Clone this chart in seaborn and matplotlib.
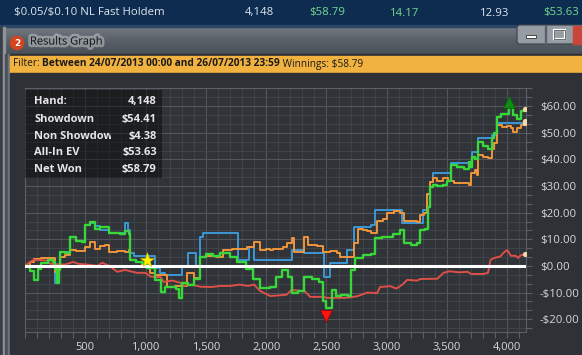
import numpy as np
import pandas as pd
import matplotlib
matplotlib.use("Agg")
import matplotlib.pyplot as plt
import matplotlib.transforms as mtransforms
import matplotlib.patheffects as pe
from matplotlib.patches import Rectangle, Circle, FancyBboxPatch
from matplotlib.colors import LinearSegmentedColormap
from matplotlib.ticker import FixedLocator, MultipleLocator, FuncFormatter
import seaborn as sns

plt.rcParams["text.parse_math"] = False  # dollar signs are literal

# header / text content
GAME = "$0.05/$0.10 NL Fast Holdem"
HEADER_VALUES = ["4,148", "$58.79", "14.17", "12.93", "$53.63"]
HEADER_GREEN = [False, True, True, False, True]
TITLE = "Results Graph"
FILTER_PARTS = [("Filter: ", "normal"),
                ("Between 24/07/2013 00:00 and 26/07/2013 23:59", "bold"),
                (" Winnings: $58.79", "normal")]
STAT_LABELS = ["Hand:", "Showdown", "Non Showdown", "All-In EV", "Net Won"]
STAT_VALUES = ["4,148", "$54.41", "$4.38", "$53.63", "$58.79"]
X_TICKS = [500, 1000, 1500, 2000, 2500, 3000, 3500, 4000]

# series (hand number, dollars)
net_won_hands = [0, 40, 77, 110, 130, 190, 230, 250, 265, 280, 292, 330, 375, 420, 470, 500, 540,
                 580, 625, 700, 790, 830, 860, 873, 920, 970, 1015, 1080, 1130, 1160, 1210, 1250,
                 1275, 1300, 1350, 1400, 1455, 1500, 1560, 1620, 1700, 1760, 1830, 1895, 1950,
                 2035, 2080, 2135, 2180, 2215, 2260, 2310, 2380, 2440, 2470, 2500, 2545, 2580,
                 2620, 2675, 2700, 2740, 2800, 2870, 2905, 2960, 3050, 3110, 3140, 3200, 3250,
                 3280, 3320, 3340, 3360, 3380, 3420, 3470, 3500, 3530, 3580, 3640, 3680, 3700,
                 3710, 3730, 3760, 3800, 3840, 3875, 3890, 3915, 3950, 3980, 4010, 4050, 4080,
                 4110, 4148]
net_won = [0, -2, -5.3, -1, 1, 2.2, 1.5, -1, -6.4, -1.5, 5.4, 5, 11, 9.5, 9, 15.4, 16.5,
           14, 14.5, 12.5, 12, 13, 12, 2.2, 1.5, 1.0, -0.8, -5.2, -9.8, -8, -7.9, -8.5,
           -12, -6.4, -7, -5, 3.4, 4.5, 3.8, 5, 3.5, 1.5, -1, -5, -8.3,
           -7.9, -4, -1.5, -4, -10, -9.5, -4, -5, -6, -13, -15.8, -9, -11.3,
           -11, -11.3, -1.5, 3, 4, 4.5, 10.5, 11, 12, 13.5, 8.6, 8, 8.5,
           13.5, 14, 22, 29.6, 30.4, 30, 30.5, 32, 38, 37, 36.5, 39, 37,
           41, 40, 46.5, 45, 44, 48, 50, 56, 57, 57, 59.3, 56.7, 55,
           58, 58.79]

all_in_hands = [0, 40, 77, 130, 190, 250, 275, 292, 330, 375, 420, 470, 500, 540, 580, 625, 660,
                700, 760, 830, 860, 873, 920, 970, 1040, 1080, 1130, 1180, 1240, 1300, 1345,
                1400, 1455, 1500, 1580, 1645, 1720, 1800, 1845, 1900, 1950, 2000, 2035, 2060,
                2100, 2140, 2170, 2215, 2230, 2290, 2310, 2350, 2420, 2475, 2530, 2590, 2615,
                2700, 2725, 2760, 2800, 2840, 2870, 2920, 2970, 3000, 3060, 3110, 3140, 3200,
                3250, 3280, 3310, 3335, 3360, 3380, 3420, 3470, 3510, 3560, 3650, 3680, 3700,
                3730, 3750, 3760, 3800, 3840, 3875, 3890, 3915, 3960, 4000, 4030, 4050, 4080,
                4110, 4148]
all_in_ev = [0, 1.5, 2.5, 3, 3, -2.2, 0, 3.4, 4, 6, 5.5, 5.5, 7, 9, 6.5, 7.5, 8,
             5.3, 5.5, 5.3, 6, 2.2, 1.5, 0.5, -2.6, -3.5, -3.5, -8, -7.5, -7.5, -2.6,
             -4.5, 3.4, 3.8, 3.5, 6, 6.5, 6.5, 7, 9, 6, 6.5, 5.8, 6.5,
             6.5, 7, 8.5, 10.5, 5.3, 5.3, 11, 8, 7.5, 5.3, 5.5, 5, 3.4,
             3.4, 8.6, 14, 13.5, 13, 12.5, 17, 17.5, 20, 20.5, 20, 17, 17,
             16.5, 19, 20, 27, 31.5, 33, 32, 33, 32, 31, 31, 30.4, 35,
             36, 34, 41.6, 41, 40.5, 44, 46, 53, 52, 52.5, 51.8, 50.3, 51.8,
             53, 53.63]

showdown_hands = [0, 40, 77, 110, 130, 190, 230, 250, 275, 292, 375, 420, 500, 540, 580, 625,
                  700, 790, 830, 855, 873, 900, 1065, 1080, 1120, 1160, 1290, 1300, 1340, 1355,
                  1410, 1420, 1455, 1480, 1760, 1770, 1860, 1900, 2065, 2215, 2310, 2470, 2480,
                  2520, 2530, 2650, 2670, 2725, 2870, 2905, 3110, 3130, 3290, 3300, 3335, 3360,
                  3380, 3530, 3700, 3710, 3760, 3850, 3875, 3915, 4140, 4148]
showdown = [0, -2, -5.3, -1, 1, 2.2, 1.5, -6.4, -1.5, 5.4, 11, 9.5, 15.4, 16, 15, 13.5,
            12.5, 12.5, 16, 13.5, 5, 3.8, 3.8, -0.8, -2.6, -3.4, -3.4, -0.5, 0, 5,
            5, -0.5, 11, 12.3, 12.3, 2.2, 7, 2.2, 2.2, 6, 5, 5, -4,
            -4, 1.1, 1.1, 6, 14.6, 15.4, 21, 21, 16, 16, 21, 27, 31.5,
            35, 38.6, 38.6, 42.8, 48, 48, 49, 53.7, 53.7, 54.41]

non_sd_hands = [0, 40, 70, 130, 185, 210, 250, 330, 400, 440, 520, 600, 640, 700, 765, 830,
                873, 930, 1000, 1040, 1125, 1150, 1220, 1290, 1315, 1380, 1455, 1550, 1620,
                1700, 1780, 1850, 1900, 1950, 2035, 2120, 2170, 2210, 2320, 2365, 2475, 2505,
                2640, 2700, 2760, 2840, 2920, 2945, 3030, 3080, 3130, 3170, 3250, 3280, 3420,
                3470, 3520, 3600, 3670, 3700, 3800, 3840, 3860, 3890, 3940, 3970, 4000, 4030,
                4070, 4090, 4110, 4148]
non_showdown = [0, 1.5, 2.2, 2.2, 2, 0.8, 0.7, 0.5, 1.5, 0.8, 0.5, 0, 1.2, 0, -2.2, -1.5,
                -2, -2.6, -2.6, -4, -4.2, -6, -5.5, -6.3, -7.5, -7, -7.8, -7.9, -7.5,
                -7.5, -7, -7.5, -7, -9.4, -11.3, -11, -10.8, -9, -9.5, -11.6, -11.6, -12,
                -12, -11.8, -11.3, -10, -10.2, -7.9, -7.6, -8.5, -7, -5.2, -5.5, -4.9, -4.8,
                -2.6, -2, -2.4, -2.2, -3, -3, -2.6, 2.2, 3, 3.5, 5, 6, 3.8,
                3.8, 3, 4, 4.38]

star_hand = [1010]
star_value = [2.2]

# draw order, colours, line style
SERIES = [
    ("Showdown", showdown_hands, showdown, "#3b98d6", 1.4, "steps-post"),
    ("All-In EV", all_in_hands, all_in_ev, "#f0953a", 1.4, "steps-post"),
    ("Non Showdown", non_sd_hands, non_showdown, "#dd4f48", 1.4, "default"),
    ("Net Won", net_won_hands, net_won, "#39d83a", 1.7, "steps-post"),
]

W, H = 582, 355
fig = plt.figure(figsize=(W / 100, H / 100), dpi=100)
fig.patch.set_facecolor("#2d3034")

# ---- window chrome, drawn in pixel coordinates ----
bg = fig.add_axes([0, 0, 1, 1], zorder=-1)
bg.set_xlim(0, W)
bg.set_ylim(H, 0)
bg.axis("off")

bg.add_patch(Rectangle((0, 0), W, 26, color="#0d2c50"))
bg.add_patch(Rectangle((0, 25), W, 1.5, color="#2a4566"))
grad = np.linspace(0, 1, 40).reshape(-1, 1)
title_cmap = LinearSegmentedColormap.from_list("tb", ["#737981", "#5a6068", "#4a5057"])
bg.imshow(grad, extent=(3, W, 54, 27), aspect="auto", cmap=title_cmap, zorder=0)
bg.add_patch(Rectangle((0, 27), 3, H, color="#3a3f45", zorder=1))
bg.add_patch(Rectangle((3, 27), 2, H, color="#8c939b", zorder=1))
bg.add_patch(Rectangle((5, 54), 5, H, color="#4c525a", zorder=1))
bg.add_patch(Rectangle((8, 54), 1.2, H, color="#6d747c", zorder=1))
bg.add_patch(Rectangle((10, 54), W, 1.5, color="#2b2e32", zorder=1))
bg.add_patch(Rectangle((10, 55.5), W, 17, color="#f2b23f", zorder=1))
bg.add_patch(Rectangle((10, 72.5), W, H, color="#2e3135", zorder=1))
bg.set_xlim(0, W)
bg.set_ylim(H, 0)

# window buttons
bg.add_patch(FancyBboxPatch((517, 25), 70, 19, boxstyle="round,pad=0,rounding_size=3",
                            facecolor="#959ca4", edgecolor="#3c4148", lw=0.8, zorder=2))
bg.add_patch(Rectangle((545, 25.5), 0.8, 18, color="#5a6068", zorder=3))
bg.add_patch(Rectangle((573, 25.5), 12, 18.5, color="#c8463a", zorder=3))
bg.add_patch(Rectangle((526, 35), 10, 3, facecolor="white", edgecolor="#333", lw=0.6, zorder=4))
bg.add_patch(Rectangle((554, 30), 11, 9, facecolor="none", edgecolor="white", lw=1.6, zorder=4))
bg.add_patch(Rectangle((554, 30), 11, 9, facecolor="none", edgecolor="#333", lw=0.5, zorder=4))

# icon + title
bg.add_patch(Circle((17, 43), 6.5, color="#d5441d", zorder=3))
bg.text(17, 43.5, "2", color="white", fontsize=6.5, fontweight="bold",
        ha="center", va="center", zorder=4)
bg.text(30, 42, TITLE, color="#141414", fontsize=8, family="Open Sans", va="center", zorder=4,
        path_effects=[pe.withStroke(linewidth=4, foreground="#c9ced3", alpha=0.5)])

# header row
bg.text(14, 13, GAME, color="#dfe6ee", fontsize=8.2, family="Open Sans", va="center")
for x, label, green in zip([245, 309, 390, 480, 543], HEADER_VALUES, HEADER_GREEN):
    bg.text(x, 13, label, color="#74d990" if green else "#dfe6ee", fontsize=8.2,
            family="Open Sans", va="center")

# filter line, pieces placed one after another
renderer = fig.canvas.get_renderer()
x = 13
for part, weight in FILTER_PARTS:
    t = bg.text(x, 64, part, color="#1a1a1a", fontsize=7.3, fontweight=weight,
                family="Open Sans", va="center", zorder=4)
    bb = t.get_window_extent(renderer=renderer)
    x += bb.width

# ---- the graph ----
ax = fig.add_axes([25 / W, 1 - 332 / H, (526 - 25) / W, (332 - 88) / H])
ax.set_facecolor("#303337")

for name, hands, values, color, lw, style in SERIES:
    sns.lineplot(x=hands, y=values, color=color, linewidth=lw, drawstyle=style,
                 estimator=None, sort=False, ax=ax, zorder=3)

ax.axhline(0, color="white", lw=2.2, zorder=4)

# end-of-line dots
for name, hands, values, color, lw, style in SERIES:
    ax.scatter([hands[-1]], [values[-1]], s=14, color="#f6d8a8", zorder=6, linewidths=0)

# peak / trough markers on net won
i_max = int(np.argmax(net_won))
i_min = int(np.argmin(net_won))
up = mtransforms.offset_copy(ax.transData, fig=fig, x=0, y=4.5, units="points")
down = mtransforms.offset_copy(ax.transData, fig=fig, x=0, y=-6, units="points")
ax.plot([net_won_hands[i_max]], [net_won[i_max]], marker="^", ms=9, color="#0f8a12",
        mec="#0a5e0c", mew=0.6, transform=up, zorder=7, clip_on=False)
ax.plot([net_won_hands[i_min]], [net_won[i_min]], marker="v", ms=9, color="#ff1414",
        mec="#8a0a0a", mew=0.6, transform=down, zorder=7, clip_on=False)
ax.plot(star_hand, star_value, marker="*", ms=11, color="#fff200", mec="#c8b400",
        mew=0.4, zorder=7, linestyle="none")

ax.set_xlim(0, 4155)
ax.set_ylim(-24.8, 66.8)
ax.set_xlabel("")
ax.set_ylabel("")

ax.xaxis.set_major_locator(FixedLocator(X_TICKS))
ax.xaxis.set_minor_locator(MultipleLocator(100))
ax.xaxis.set_major_formatter(FuncFormatter(lambda v, p: f"{int(v):,}"))
ax.yaxis.set_major_locator(MultipleLocator(10))
ax.yaxis.set_minor_locator(MultipleLocator(10 / 3))
ax.yaxis.set_major_formatter(
    FuncFormatter(lambda v, p: f"${v:,.2f}" if v >= 0 else f"-${-v:,.2f}"))
ax.yaxis.tick_right()

ax.grid(which="major", color="#52565c", lw=0.8)
ax.grid(which="minor", color="#42464b", lw=0.6)
ax.set_axisbelow(True)
ax.tick_params(which="both", color="#5c6066", length=4, width=0.8, direction="out")
ax.tick_params(axis="x", which="both", labelsize=8, labelcolor="#d6d8da", pad=3)
ax.tick_params(axis="y", which="both", labelsize=8.2, labelcolor="#d6d8da", pad=6)
for lab in ax.get_xticklabels() + ax.get_yticklabels():
    lab.set_family("Open Sans")
for s in ax.spines.values():
    s.set_color("#5c6066")
    s.set_linewidth(0.8)

# stats box
ax.add_patch(Rectangle((0, 0.631), 0.273, 0.361, transform=ax.transAxes,
                       facecolor="black", alpha=0.42, zorder=8, lw=0))
label_clip = mtransforms.TransformedBbox(mtransforms.Bbox([[0, 0], [0.172, 1]]), ax.transAxes)
for yy, lab, val in zip([0.943, 0.869, 0.803, 0.734, 0.664], STAT_LABELS, STAT_VALUES):
    t = ax.text(0.018, yy, lab, transform=ax.transAxes, color="#e6e6e6", fontsize=8,
                fontweight="bold", family="Open Sans", va="center", zorder=9, clip_on=True)
    t.set_clip_box(label_clip)
    t.set_clip_path(None)
    ax.text(0.263, yy, val, transform=ax.transAxes, color="#e6e6e6", fontsize=8,
            fontweight="bold", family="Open Sans", va="center", ha="right", zorder=9)

fig.savefig("out.png", dpi=100, facecolor=fig.get_facecolor())
